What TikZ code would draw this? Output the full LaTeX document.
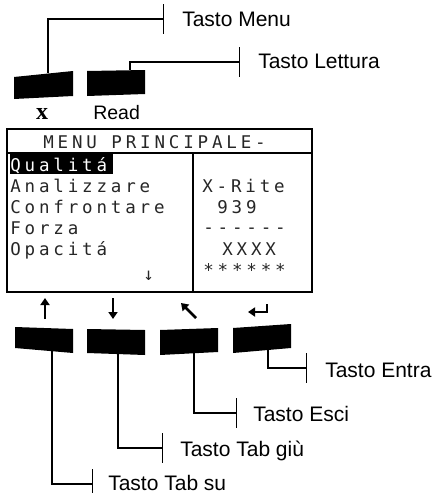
\documentclass[tikz,border=0pt]{standalone}
\usepackage{fontspec}
\usepackage{tikz}
\usetikzlibrary{arrows.meta}

\newfontfamily\arial{Liberation Sans}
\newfontfamily\timesfont{Liberation Serif}
\newfontfamily\lcd[LetterSpace=22]{DejaVu Sans Mono}

\begin{document}
\begin{tikzpicture}[
            x = 1pt, y = -1pt, % pixel grid, y runs downwards
            line join = miter,
            semithick % line style
        ]

        \tikzstyle{key}=[fill = black]
        \tikzstyle{lead}=[
            draw = black,
            line width = 1.3pt,
            -{Bar[width=30pt]}
        ]
        \tikzstyle{tag}=[
            anchor = base west,
            inner sep = 0pt,
            font = \arial\fontsize{21}{21}\selectfont
        ]
        \tikzstyle{lcdtext}=[
            anchor = base west,
            inner sep = 0pt,
            text = black!85,
            font = \lcd\fontsize{17.5}{18}\selectfont
        ]
        \tikzstyle{icon}=[line width = 2.6pt, -{Triangle[width=9pt,length=7pt]}]

    \useasboundingbox (0,0) rectangle (434,493);

    % Upper keys
    \fill[key] (14,77) -- (73,71) -- (73,96) -- (14,99) -- cycle;
    \fill[key] (87,71) -- (145,70) -- (145,94) -- (87,96) -- cycle;
    \node[inner sep = 0pt, anchor = base] (x) at (42,119) {\timesfont\bfseries\fontsize{24}{24}\selectfont x};
    \node[tag, font = \arial\fontsize{19.5}{20}\selectfont] (read) at (93,119) {Read};

    % Display
    \draw[line width = 2pt] (7,129) rectangle (312,292);
    \draw[line width = 2pt] (7,153) -- (312,153);
    \draw[line width = 2pt] (193,153) -- (193,292);
    \node[lcdtext] (title) at (43,148) {MENU PRINCIPALE-};
    \fill (10,152) rectangle (113,174);
    \node[lcdtext, text = white] (m1) at (10,171) {Qualitá};
    \node[lcdtext] (m2) at (10,192) {Analizzare};
    \node[lcdtext] (m3) at (10,213) {Confrontare};
    \node[lcdtext] (m4) at (10,234) {Forza};
    \node[lcdtext] (m5) at (10,255) {Opacitá};
    \node[lcdtext] (more) at (143,280) {↓};
    \node[lcdtext] (r1) at (202,192) {X-Rite};
    \node[lcdtext] (r2) at (217,213) {939};
    \node[lcdtext] (r3) at (203,233) {------};
    \node[lcdtext] (r4) at (222,255) {XXXX};
    \node[lcdtext] (r5) at (203,276) {******};

    % Key symbols
    \draw[icon] (45,319) -- (45,298);
    \draw[icon] (113,298) -- (113,319);
    \draw[icon] (196,318) -- (181,303);
    \draw[icon] (267,304) |- (248,312);

    % Lower keys
    \fill[key] (15,327) -- (73,329) -- (73,353) -- (15,348) -- cycle;
    \fill[key] (87,329) -- (145,330) -- (145,355) -- (87,353) -- cycle;
    \fill[key] (160,330) -- (218,328) -- (218,352) -- (160,355) -- cycle;
    \fill[key] (233,328) -- (291,324) -- (291,348) -- (233,353) -- cycle;

    % Define the lead ends
    \coordinate (bx) at (48,73);
    \coordinate (br) at (130,70);
    \coordinate (b1) at (52,350);
    \coordinate (b2) at (118,353);
    \coordinate (b3) at (194,353);
    \coordinate (b4) at (268,349);
    \coordinate (tmenu) at (164,19);
    \coordinate (tlett) at (240,62);
    \coordinate (t1) at (93,484);
    \coordinate (t2) at (163,448);
    \coordinate (t3) at (237,413);
    \coordinate (t4) at (307,368);

    % Draw leads and names
    \draw[lead] (bx) |- (tmenu);
    \draw[lead] (br) |- (tlett);
    \draw[lead] (b1) |- (t1);
    \draw[lead] (b2) |- (t2);
    \draw[lead] (b3) |- (t3);
    \draw[lead] (b4) |- (t4);
    \node[tag] (menu) at (182,26) {Tasto Menu};
    \node[tag] (lettura) at (258,68) {Tasto Lettura};
    \node[tag] (tabsu) at (108,490) {Tasto Tab su};
    \node[tag] (tabgiu) at (180,456) {Tasto Tab giù};
    \node[tag] (esci) at (253,421) {Tasto Esci};
    \node[tag] (entra) at (325,377) {Tasto Entra};
\end{tikzpicture}
\end{document}
